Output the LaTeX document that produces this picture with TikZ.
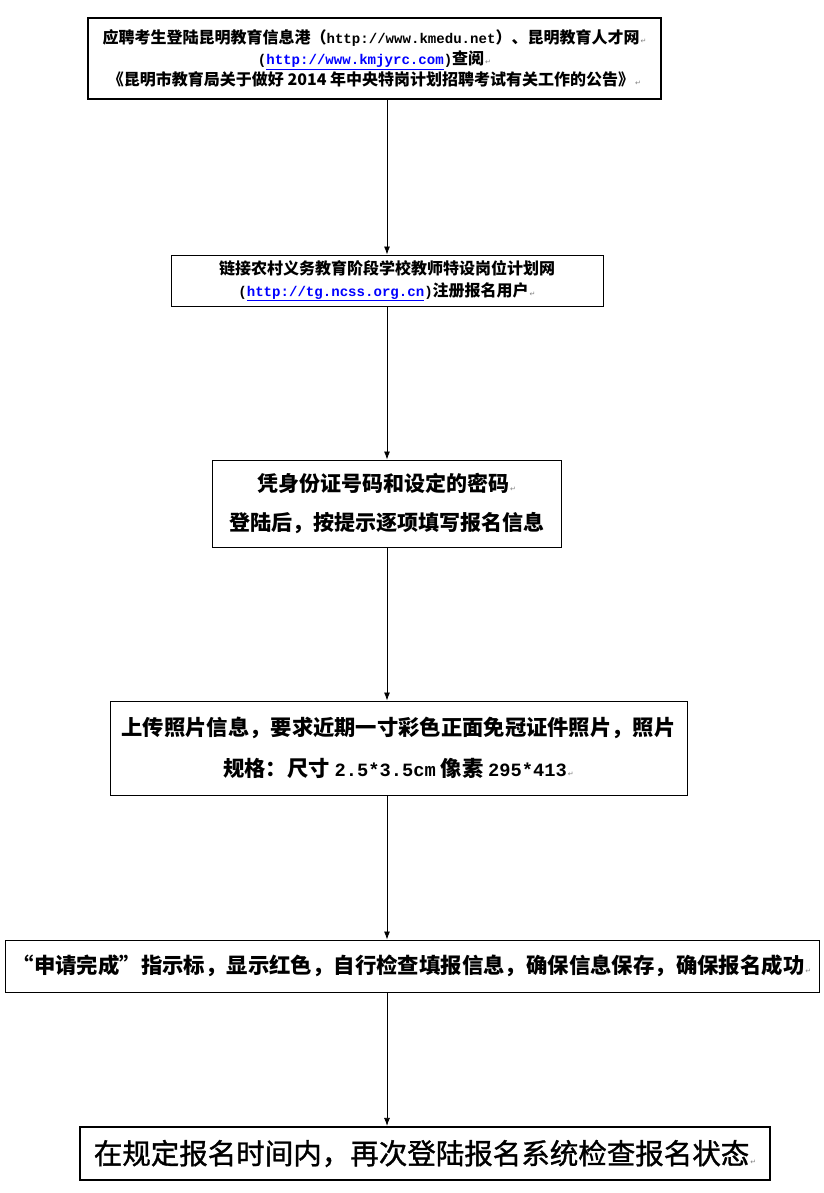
\documentclass[tikz,border=0pt]{standalone}
\usepackage{fontspec}
\usepackage{tikz}
\usetikzlibrary{arrows.meta}
\newfontfamily\cjk{Noto Sans CJK SC}
\newfontfamily\cjkheavy[FakeBold=1.2]{Noto Sans CJK SC}
\newfontfamily\mono[Scale=0.88]{Liberation Mono}
\newfontfamily\symb{DejaVu Sans}
\newcommand\pmark{\hspace{1pt}{\symb\mdseries\fontsize{7}{7}\selectfont\color{gray}↵}}
\newcommand\weblink[1]{{\color{blue}\underline{\mono\bfseries #1}}}
\newcommand\latin[1]{{\mono\bfseries #1}}
\tikzset{
	stepbox/.style={draw, line width=1pt, inner sep=0pt, align=center},
	arr/.style={-{Latex[length=8pt,width=6pt]}, line width=0.8pt},
}
\begin{document}
\begin{tikzpicture}[x=1pt,y=-1pt]
				\useasboundingbox (0,0) rectangle (823,1193);
				\coordinate (spine) at (387,0);
				%
				\node[stepbox, line width=2.2pt, minimum width=573pt, minimum height=81pt, font=\cjk\bfseries\fontsize{16}{21}\selectfont] (notice) at (374.5,58.5)
				{应聘考生登陆昆明教育信息港（\latin{http://www.kmedu.net}）、昆明教育人才网\pmark\\
				\latin{(}\weblink{http://www.kmjyrc.com}\latin{)}查阅\pmark\\
				《昆明市教育局关于做好 2014 年中央特岗计划招聘考试有关工作的公告》\pmark};
				%
				\node[stepbox, minimum width=432pt, minimum height=51pt, font=\cjk\bfseries\fontsize{16}{22}\selectfont] (signup) at (387,280.5)
				{链接农村义务教育阶段学校教师特设岗位计划网\\
				\latin{(}\weblink{http://tg.ncss.org.cn}\latin{)}注册报名用户\pmark};
				%
				\node[stepbox, minimum width=349pt, minimum height=87pt, font=\cjk\bfseries\fontsize{21}{39}\selectfont] (login) at (386.5,503.5)
				{凭身份证号码和设定的密码\pmark\\
				登陆后，按提示逐项填写报名信息};
				%
				\node[stepbox, minimum width=577pt, minimum height=94pt, font=\cjk\bfseries\fontsize{21.3}{41}\selectfont] (photo) at (398.5,748)
				{上传照片信息，要求近期一寸彩色正面免冠证件照片，照片\\
				规格：尺寸 \latin{2.5*3.5cm} 像素 \latin{295*413}\pmark};
				%
				\node[stepbox, minimum width=814pt, minimum height=52pt, font=\cjk\bfseries\fontsize{21.4}{26}\selectfont] (finish) at (412,966)
				{“申请完成”指示标，显示红色，自行检查填报信息，确保信息保存，确保报名成功\pmark};
				%
				\node[stepbox, line width=2.2pt, minimum width=690pt, minimum height=53pt, font=\cjkheavy\fontsize{28.5}{32}\selectfont] (status) at (425,1153.5)
				{在规定报名时间内，再次登陆报名系统检查报名状态\pmark};
				%
				\draw[arr] (notice.south -| spine) -- (signup.north -| spine);
				\draw[arr] (signup.south -| spine) -- (login.north -| spine);
				\draw[arr] (login.south -| spine) -- (photo.north -| spine);
				\draw[arr] (photo.south -| spine) -- (finish.north -| spine);
				\draw[arr] (finish.south -| spine) -- (status.north -| spine);
		
			\end{tikzpicture}
\end{document}
